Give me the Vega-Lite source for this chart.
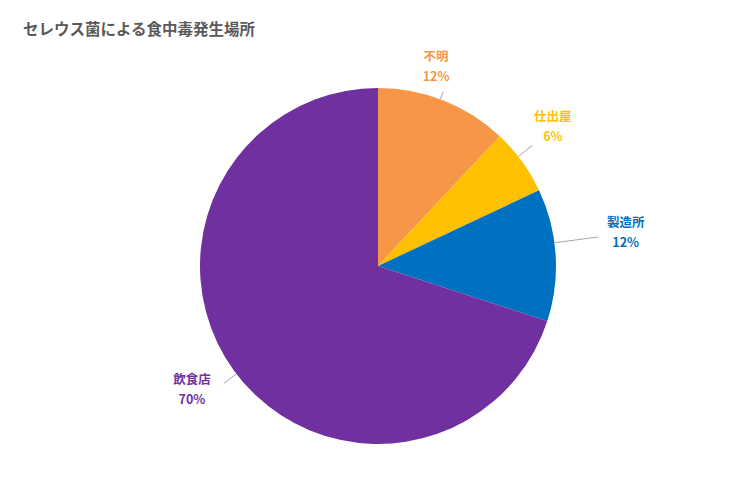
{
  "$schema": "https://vega.github.io/schema/vega-lite/v6.json",
  "width": 756,
  "height": 446,
  "autosize": "none",
  "padding": {"top": 43, "left": 0, "right": 0, "bottom": 0},
  "background": "white",
  "title": {
    "text": "セレウス菌による食中毒発生場所",
    "anchor": "start",
    "frame": "group",
    "dx": 23,
    "offset": 5,
    "font": "Noto Sans CJK JP",
    "fontSize": 15.5,
    "fontWeight": "bold",
    "color": "#595959"
  },
  "data": {
    "values": [
      {"place": "不明", "pct": 12, "idx": 1, "label": "不明\n12%"},
      {"place": "仕出屋", "pct": 6, "idx": 2, "label": "仕出屋\n6%"},
      {"place": "製造所", "pct": 12, "idx": 3, "label": "製造所\n12%"},
      {"place": "飲食店", "pct": 70, "idx": 4, "label": "飲食店\n70%"}
    ]
  },
  "encoding": {
    "theta": {"field": "pct", "type": "quantitative", "stack": true},
    "order": {"field": "idx", "type": "quantitative"},
    "color": {
      "field": "place",
      "type": "nominal",
      "legend": null,
      "scale": {
        "domain": ["不明", "仕出屋", "製造所", "飲食店"],
        "range": ["#F79646", "#FFC000", "#0070C0", "#7030A0"]
      }
    }
  },
  "layer": [
    {"mark": {"type": "arc", "outerRadius": 178}},
    {
      "mark": {"type": "arc", "clip": true, "filled": false, "strokeWidth": 1, "innerRadius": 178, "outerRadius": 186, "thetaOffset": -0.3962, "strokeDash": [0, 282.45, 8, 5000]},
      "encoding": {
        "color": {"value": "#A6A6A6"},
        "detail": {"field": "place"},
        "opacity": {"condition": {"test": "datum.place === '不明'", "value": 1}, "value": 0}
      }
    },
    {
      "mark": {"type": "arc", "clip": true, "filled": false, "strokeWidth": 1, "innerRadius": 178, "outerRadius": 196, "thetaOffset": -0.2234, "strokeDash": [0, 159.0, 18, 5000]},
      "encoding": {
        "color": {"value": "#A6A6A6"},
        "detail": {"field": "place"},
        "opacity": {"condition": {"test": "datum.place === '仕出屋'", "value": 1}, "value": 0}
      }
    },
    {
      "mark": {"type": "arc", "clip": true, "filled": false, "strokeWidth": 1, "innerRadius": 178, "outerRadius": 222, "thetaOffset": -0.4451, "strokeDash": [0, 345.59, 44, 5000]},
      "encoding": {
        "color": {"value": "#A6A6A6"},
        "detail": {"field": "place"},
        "opacity": {"condition": {"test": "datum.place === '製造所'", "value": 1}, "value": 0}
      }
    },
    {
      "mark": {"type": "arc", "clip": true, "filled": false, "strokeWidth": 1, "innerRadius": 178, "outerRadius": 194, "thetaOffset": -2.2218, "strokeDash": [0, 1652.14, 16, 5000]},
      "encoding": {
        "color": {"value": "#A6A6A6"},
        "detail": {"field": "place"},
        "opacity": {"condition": {"test": "datum.place === '飲食店'", "value": 1}, "value": 0}
      }
    },
    {
      "mark": {"type": "text", "clip": true, "radius": 208, "thetaOffset": -0.094, "font": "Noto Sans CJK JP", "fontSize": 12.5, "fontWeight": "bold", "lineBreak": "\n", "lineHeight": 20, "baseline": "middle", "dy": -9},
      "encoding": {
        "text": {"condition": {"test": "datum.place === '不明'", "field": "label"}, "value": ""}
      }
    },
    {
      "mark": {"type": "text", "clip": true, "radius": 224, "thetaOffset": -0.047, "font": "Noto Sans CJK JP", "fontSize": 12.5, "fontWeight": "bold", "lineBreak": "\n", "lineHeight": 20, "baseline": "middle", "dy": -9},
      "encoding": {
        "text": {"condition": {"test": "datum.place === '仕出屋'", "field": "label"}, "value": ""}
      }
    },
    {
      "mark": {"type": "text", "clip": true, "radius": 250, "thetaOffset": -0.073, "font": "Noto Sans CJK JP", "fontSize": 12.5, "fontWeight": "bold", "lineBreak": "\n", "lineHeight": 20, "baseline": "middle", "dy": -9},
      "encoding": {
        "text": {"condition": {"test": "datum.place === '製造所'", "field": "label"}, "value": ""}
      }
    },
    {
      "mark": {"type": "text", "clip": true, "radius": 223, "thetaOffset": 0.044, "font": "Noto Sans CJK JP", "fontSize": 12.5, "fontWeight": "bold", "lineBreak": "\n", "lineHeight": 20, "baseline": "middle", "dy": -9},
      "encoding": {
        "text": {"condition": {"test": "datum.place === '飲食店'", "field": "label"}, "value": ""}
      }
    }
  ],
  "config": {"view": {"stroke": null}}
}
